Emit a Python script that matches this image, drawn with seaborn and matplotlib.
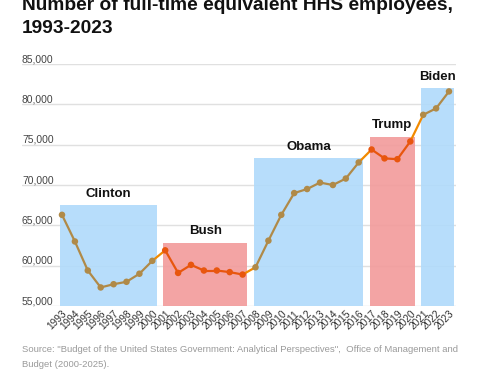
import matplotlib
matplotlib.use("Agg")
import matplotlib.pyplot as plt
import seaborn as sns
import numpy as np
import pandas as pd

# ---- data ----
years = list(range(1993, 2024))
employees = [66300, 63000, 59400, 57300, 57700, 58000, 59000, 60600,
             61900, 59100, 60100, 59400, 59400, 59200, 58900,
             59800, 63100, 66300, 69000, 69500, 70300, 70000, 70800, 72800,
             74400, 73300, 73200, 75400,
             78700, 79500, 81600]

presidents = ["Clinton", "Bush", "Obama", "Trump", "Biden"]
term_first = [1993, 2001, 2008, 2017, 2021]
term_last = [2000, 2007, 2016, 2020, 2023]
parties = ["D", "R", "D", "R", "D"]
bar_tops = [67500, 62800, 73300, 76000, 82000]

yticks = [55000, 60000, 65000, 70000, 75000, 80000, 85000]
title_lines = ["Number of full-time equivalent HHS employees,", "1993-2023"]
source_lines = ['Source: "Budget of the United States Government: Analytical Perspectives",  Office of Management and',
                'Budget (2000-2025).']

# ---- style ----
sns.set_theme(style="white")
plt.rcParams['font.family'] = ['Liberation Sans', 'DejaVu Sans']

bar_color = {"D": "#b0dafb", "R": "#f29a9a"}
line_color = {"D": "#b08a48", "R": "#e8560e"}
trans_color = "#f28a00"

fig = plt.figure(figsize=(4.8, 3.9), dpi=100)
ax = fig.add_axes([22/480, 1 - 306/390, (456 - 22)/480, (306 - 64)/390])

# party per year
year_party = {}
for f, l, p in zip(term_first, term_last, parties):
    for y in range(f, l + 1):
        year_party[y] = p
df = pd.DataFrame({"year": years, "employees": employees,
                   "party": [year_party[y] for y in years]})

# gridlines
for t in yticks:
    ax.axhline(t, color="#e0e0e0", lw=1.0, zorder=0)

# term bars
for name, f, l, p, top in zip(presidents, term_first, term_last, parties, bar_tops):
    left = f - 0.15
    width = (l - f) + 0.5
    ax.bar(left, top - 55000, width=width, bottom=55000, align="edge",
           color=bar_color[p], alpha=0.9, lw=0, zorder=1)
    ax.text(left + width / 2, top + 700, name, ha="center", va="bottom",
            fontsize=9.5, fontweight="bold", color="#111111", zorder=5)

# line segments
for i in range(len(df) - 1):
    p0, p1 = df.party[i], df.party[i + 1]
    c = line_color[p0] if p0 == p1 else trans_color
    sns.lineplot(x=df.year[i:i + 2], y=df.employees[i:i + 2], color=c,
                 lw=1.6, ax=ax, zorder=3, legend=False)

sns.scatterplot(data=df, x="year", y="employees", hue="party",
                palette=line_color, s=22, linewidth=0, ax=ax, zorder=4,
                legend=False)

ax.set_xlim(1993 - 40/12.9, 1993 + 394/12.9)
ax.set_ylim(55000, 85000)
for s in ax.spines.values():
    s.set_visible(False)

ax.set_xticks(years)
ax.set_xticklabels([str(y) for y in years], rotation=45, ha="right",
                   rotation_mode="anchor", fontsize=7.3, color="#333333")
ax.tick_params(axis="x", length=0, pad=2)

ax.set_yticks(yticks)
ax.set_yticklabels([f"{t:,}" for t in yticks], ha="left", va="bottom",
                   fontsize=7.4, color="#444444")
ax.tick_params(axis="y", length=0, pad=0)
ax.set_xlabel("")
ax.set_ylabel("")

fig.text(22/480, 1 - 10/390, title_lines[0], fontsize=13.8, fontweight="bold",
         color="#111111", va="baseline", ha="left")
fig.text(22/480, 1 - 33/390, title_lines[1], fontsize=13.8, fontweight="bold",
         color="#111111", va="baseline", ha="left")

fig.text(22/480, 1 - 352/390, source_lines[0], fontsize=6.8, color="#9a9a9a",
         va="baseline", ha="left")
fig.text(22/480, 1 - 367/390, source_lines[1], fontsize=6.8, color="#9a9a9a",
         va="baseline", ha="left")

fig.savefig("out.png", dpi=100)
